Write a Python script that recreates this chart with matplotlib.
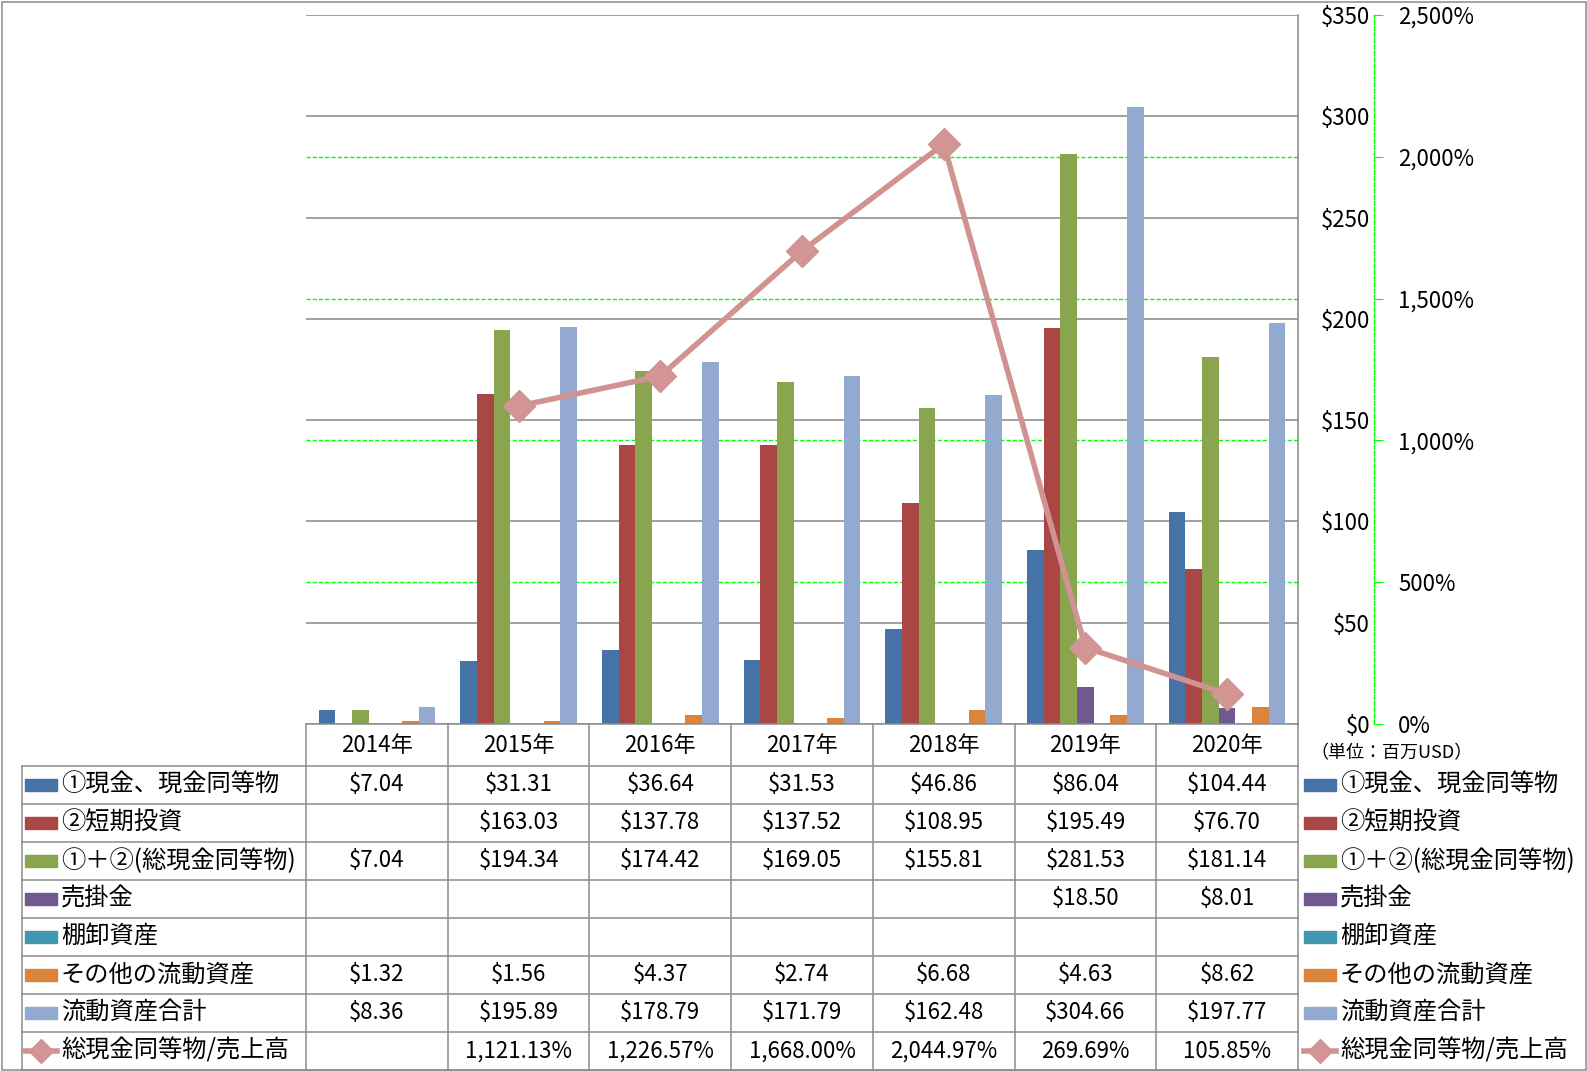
import numpy as np
import matplotlib
matplotlib.use("Agg")
import matplotlib.pyplot as plt
from matplotlib.lines import Line2D
from matplotlib.patches import Rectangle

plt.rcParams['font.family'] = ['Noto Sans CJK JP', 'DejaVu Sans']

# ---- data ----
years = ['2014年', '2015年', '2016年', '2017年', '2018年', '2019年', '2020年']
nan = np.nan
cash = [7.04, 31.31, 36.64, 31.53, 46.86, 86.04, 104.44]
short_inv = [nan, 163.03, 137.78, 137.52, 108.95, 195.49, 76.70]
total_cash = [7.04, 194.34, 174.42, 169.05, 155.81, 281.53, 181.14]
receivable = [nan, nan, nan, nan, nan, 18.50, 8.01]
inventory = [nan, nan, nan, nan, nan, nan, nan]
other_assets = [1.32, 1.56, 4.37, 2.74, 6.68, 4.63, 8.62]
current_total = [8.36, 195.89, 178.79, 171.79, 162.48, 304.66, 197.77]
cash_ratio = [nan, 1121.13, 1226.57, 1668.00, 2044.97, 269.69, 105.85]

bar_names = ['①現金、現金同等物', '②短期投資', '①＋②(総現金同等物)', '売掛金',
             '棚卸資産', 'その他の流動資産', '流動資産合計']
bar_series = [cash, short_inv, total_cash, receivable, inventory, other_assets, current_total]
bar_colors = ['#4572A7', '#AA4643', '#89A54E', '#71588F', '#4198AF', '#DB843D', '#93A9CF']
line_name = '総現金同等物/売上高'
line_color = '#D19392'

W, H = 1587, 1071
fig = plt.figure(figsize=(W / 100, H / 100), dpi=100)


def fx(x):
    return x / W


def fy(y):
    return 1 - y / H


# plot area in pixels
L, R, T, B = 306, 1298, 15, 724
ax = fig.add_axes([fx(L), fy(B), fx(R) - fx(L), fy(T) - fy(B)])
ax2 = ax.twinx()

n = len(years)
x = np.arange(n)
bw = 1 / 8.5
for i, (vals, col) in enumerate(zip(bar_series, bar_colors)):
    ax.bar(x + (i - 3) * bw, vals, width=bw, color=col, zorder=2)

ax.set_xlim(-0.5, n - 0.5)
ax.set_ylim(0, 350)
ax.set_yticks(np.arange(0, 351, 50))
ax.set_yticklabels(['$%d' % v for v in np.arange(0, 351, 50)])
ax.set_xticks([])
ax.yaxis.tick_right()
ax.tick_params(axis='y', length=0, pad=72 * 0.72, labelsize=16)
plt.setp(ax.get_yticklabels(), ha='right')
ax.grid(axis='y', color='#868686', lw=1.1, zorder=0)
ax.set_axisbelow(True)
for s in ['top', 'left', 'bottom']:
    ax.spines[s].set_visible(False)
ax.spines['right'].set_color('#868686')
ax.spines['right'].set_linewidth(1.1)

# secondary axis ticks drawn as green dashed grid behind bars
pct_ticks = [0, 500, 1000, 1500, 2000, 2500]
for p in pct_ticks[1:-1]:
    ax.axhline(p * 350 / 2500, color='#00FF00', lw=1, ls=(0, (3, 1.5)), zorder=0.5)

ax2.plot(x, cash_ratio, color=line_color, lw=4, marker='D', ms=16,
         mfc='#D39494', mec=line_color, solid_joinstyle='round', zorder=3)
ax2.set_ylim(0, 2500)
ax2.set_yticks(pct_ticks)
ax2.set_yticklabels(['{:,}%'.format(p) for p in pct_ticks])
for s in ['top', 'left', 'bottom']:
    ax2.spines[s].set_visible(False)
ax2.spines['right'].set_position(('outward', 76 * 0.72))
ax2.spines['right'].set_color('#00FF00')
ax2.spines['right'].set_linestyle((0, (3, 1.5)))
ax2.spines['right'].set_linewidth(1)
ax2.tick_params(axis='y', direction='out', length=6.5, color='#00FF00',
                pad=15 * 0.72, labelsize=16)

# ---- data table ----
line_kw = dict(color='#8C8C8C', lw=1.1, transform=fig.transFigure)
col_w = (R - L) / n
row_h = 38
top_rows = 766
rows_bottom = top_rows + 8 * row_h

fig.add_artist(Line2D([fx(L), fx(R)], [fy(B), fy(B)], **line_kw))
for k in range(9):
    yy = top_rows + k * row_h
    fig.add_artist(Line2D([fx(22), fx(R)], [fy(yy), fy(yy)], **line_kw))
fig.add_artist(Line2D([fx(22), fx(22)], [fy(top_rows), fy(rows_bottom)], **line_kw))
for k in range(n + 1):
    xx = L + k * col_w
    fig.add_artist(Line2D([fx(xx), fx(xx)], [fy(B), fy(rows_bottom)], **line_kw))

for j, yr in enumerate(years):
    fig.text(fx(L + (j + 0.5) * col_w), fy((B + top_rows) / 2), yr,
             ha='center', va='center', fontsize=16)

fig.text(fx(1310), fy(753), '（単位：百万USD）', ha='left', va='center', fontsize=13)

row_names = bar_names + [line_name]
row_series = bar_series + [cash_ratio]
for r, (name, vals) in enumerate(zip(row_names, row_series)):
    yc = top_rows + (r + 0.5) * row_h
    for lx in (25, 1304):
        if r < len(bar_colors):
            fig.add_artist(Rectangle((fx(lx), fy(yc + 6)), fx(32), 12 / H,
                                     color=bar_colors[r], transform=fig.transFigure))
        else:
            fig.add_artist(Line2D([fx(lx), fx(lx + 32)], [fy(yc), fy(yc)], color=line_color,
                                  lw=4, transform=fig.transFigure))
            fig.add_artist(Line2D([fx(lx + 16)], [fy(yc)], marker='D', ms=12, color=line_color,
                                  mfc='#D39494', transform=fig.transFigure))
        fig.text(fx(lx + 36), fy(yc), name, ha='left', va='center', fontsize=17.5)
    for j, v in enumerate(vals):
        if np.isnan(v):
            continue
        txt = '{:,.2f}%'.format(v) if r == len(bar_colors) else '${:,.2f}'.format(v)
        fig.text(fx(L + (j + 0.5) * col_w), fy(yc), txt, ha='center', va='center', fontsize=16)

# outer chart border
fig.add_artist(Rectangle((fx(1.5), fy(1069.5)), fx(1584), 1068 / H, fill=False,
                         ec='#8C8C8C', lw=1.1, transform=fig.transFigure))

fig.savefig('out.png', dpi=100)
